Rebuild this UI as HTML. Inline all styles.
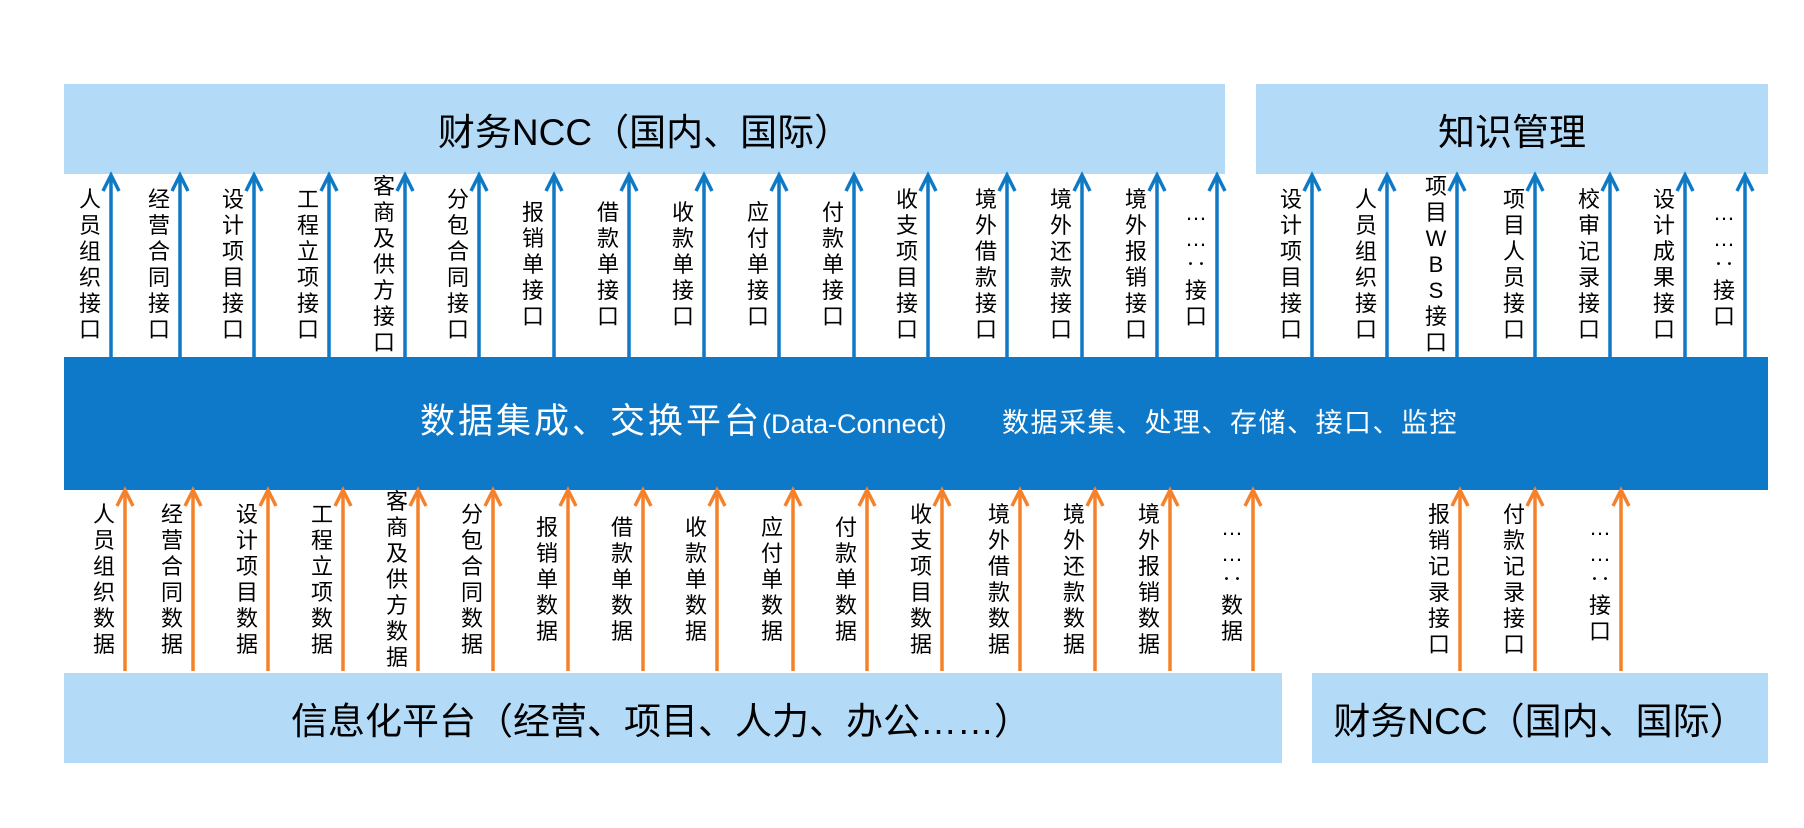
<!DOCTYPE html>
<html><head><meta charset="utf-8"><style>
body{margin:0;width:1804px;height:828px;background:#fff;position:relative;overflow:hidden;font-family:"Liberation Sans","Noto Sans CJK SC",sans-serif}
.box{position:absolute;background:#b3dbf8;display:flex;align-items:center;justify-content:center;color:#000;font-size:37px}
.lb{position:absolute;width:26px;font-size:22px;line-height:26px;text-align:center;color:#000;transform:translate(-50%,-50%);word-break:break-all}
svg{position:absolute;left:0;top:0}
</style></head><body>
<div class="box" style="left:64px;top:84px;width:1161px;height:90px">财务NCC（国内、国际）</div>
<div class="box" style="left:1256px;top:84px;width:512px;height:90px">知识管理</div>
<div style="position:absolute;left:64px;top:357px;width:1704px;height:133px;background:#0e79c9"></div>
<div style="position:absolute;left:420px;top:400px;color:#fff;white-space:nowrap;font-size:35px;letter-spacing:3px;line-height:44px">数据集成、交换平台<span style="font-size:27px;letter-spacing:0">(Data-Connect)</span></div>
<div style="position:absolute;left:1002px;top:407px;color:#fff;white-space:nowrap;font-size:27px;letter-spacing:1.5px;line-height:32px">数据采集、处理、存储、接口、监控</div>
<div class="box" style="left:64px;top:673px;width:1218px;height:90px"><span style="margin-right:24px">信息化平台（经营、项目、人力、办公……）</span></div>
<div class="box" style="left:1312px;top:673px;width:456px;height:90px">财务NCC（国内、国际）</div>
<svg width="1804" height="828" id="s"></svg>
<div id="labels"></div>
<script>
(function(){
var tops=[[111,"人员组织接口"],[180,"经营合同接口"],[254,"设计项目接口"],[329,"工程立项接口"],[405,"客商及供方接口"],[479,"分包合同接口"],[554,"报销单接口"],[629,"借款单接口"],[704,"收款单接口"],[779,"应付单接口"],[854,"付款单接口"],[928,"收支项目接口"],[1007,"境外借款接口"],[1082,"境外还款接口"],[1157,"境外报销接口"],[1217,"……‥接口"],[1312,"设计项目接口"],[1387,"人员组织接口"],[1457,"项目WBS接口"],[1535,"项目人员接口"],[1610,"校审记录接口"],[1685,"设计成果接口"],[1745,"……‥接口"]];
var bots=[[125,"人员组织数据"],[193,"经营合同数据"],[268,"设计项目数据"],[343,"工程立项数据"],[418,"客商及供方数据"],[493,"分包合同数据"],[568,"报销单数据"],[643,"借款单数据"],[717,"收款单数据"],[793,"应付单数据"],[867,"付款单数据"],[942,"收支项目数据"],[1020,"境外借款数据"],[1095,"境外还款数据"],[1170,"境外报销数据"],[1253,"……‥数据"],[1460,"报销记录接口"],[1535,"付款记录接口"],[1621,"……‥接口"]];
var s="",h="";
function arr(x,t,b,c){s+='<line x1="'+x+'" y1="'+b+'" x2="'+x+'" y2="'+(t+1)+'" stroke="'+c+'" stroke-width="3.5"/><polyline points="'+(x-8)+','+(t+16)+' '+x+','+t+' '+(x+8)+','+(t+16)+'" fill="none" stroke="'+c+'" stroke-width="3.5"/>';}
function lab(x,y,t){h+='<div class="lb" style="left:'+x+'px;top:'+y+'px">'+Array.from(t).join('<br>')+'</div>';}
tops.forEach(function(a){arr(a[0],175,357,"#0e7ac6");lab(a[0]-21,265,a[1]);});
bots.forEach(function(a){arr(a[0],490,671,"#f5822a");lab(a[0]-21,580,a[1]);});
document.getElementById("s").innerHTML=s;
document.getElementById("labels").innerHTML=h;
})();
</script>
</body></html>
